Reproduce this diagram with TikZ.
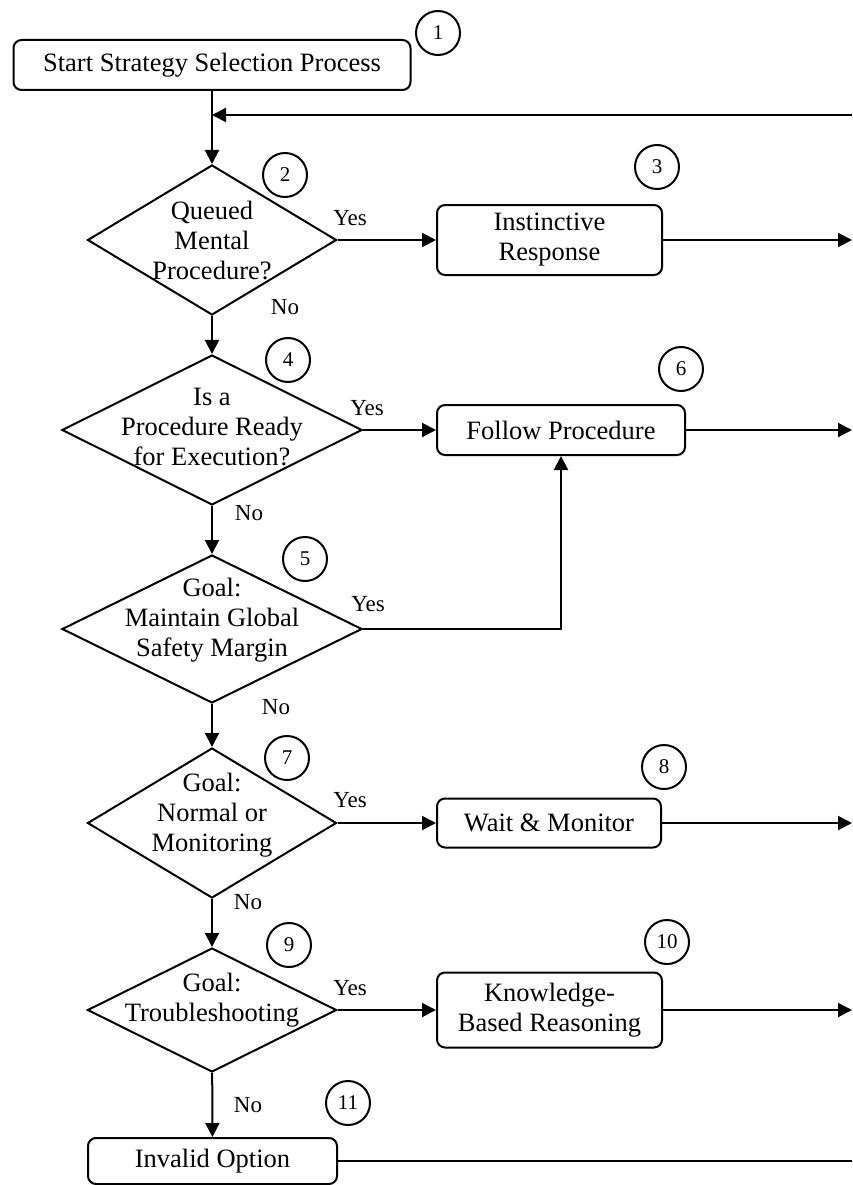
\documentclass[tikz,border=0pt]{standalone}
\usepackage{fontspec}
\setmainfont{Liberation Serif}
\usetikzlibrary{shapes.geometric, arrows.meta}

\begin{document}
\begin{tikzpicture}[x=1pt, y=-1pt, line width=2pt,
        box/.style={draw, rounded corners=8pt, align=center, inner sep=0pt,
            font=\fontsize{26.5}{30}\selectfont},
        decision/.style={draw, diamond, inner sep=0pt},
        qtext/.style={align=center, font=\fontsize{26.5}{30}\selectfont},
        answer/.style={font=\fontsize{23}{26}\selectfont},
        stepnum/.style={draw, circle, minimum size=44pt, inner sep=0pt,
            font=\fontsize{21}{23}\selectfont},
        flow/.style={-{Triangle[length=14pt, width=14pt]}}]
        \useasboundingbox (0,0) rectangle (852,1185);

        % Start box
        \node[box, minimum width=397pt, minimum height=50pt] (start) at (212,65) {Start Strategy Selection Process};
        \node[stepnum] (n1) at (438,33) {1};

        % Decisions down the left column
        \node[decision, minimum width=249pt, minimum height=150pt] (queued) at (212,240) {};
        \node[qtext] (queuedtxt) at (212,240) {Queued\\Mental\\Procedure?};
        \node[decision, minimum width=300pt, minimum height=150pt] (ready) at (212,430) {};
        \node[qtext] (readytxt) at (212,427) {Is a\\Procedure Ready\\for Execution?};
        \node[decision, minimum width=300pt, minimum height=148pt] (safety) at (212,629) {};
        \node[qtext] (safetytxt) at (212,620) {Goal:\\Maintain Global\\Safety Margin};
        \node[decision, minimum width=249pt, minimum height=150pt] (normal) at (212,823) {};
        \node[qtext] (normaltxt) at (212,815) {Goal:\\Normal or\\Monitoring};
        \node[decision, minimum width=249pt, minimum height=124pt] (trouble) at (212,1010) {};
        \node[qtext] (troubletxt) at (212,1000) {Goal:\\Troubleshooting};
        \node[box, minimum width=249pt, minimum height=46pt] (invalid) at (212.5,1161) {Invalid Option};

        % Actions on the right
        \node[box, minimum width=225pt, minimum height=70pt] (instinct) at (549.5,240) {Instinctive\\Response};
        \node[box, minimum width=248pt, minimum height=50pt] (follow) at (561,430) {Follow Procedure};
        \node[box, minimum width=224pt, minimum height=49pt] (wait) at (549,823) {Wait \& Monitor};
        \node[box, minimum width=225pt, minimum height=75pt] (knowledge) at (549.5,1010) {Knowledge-\\Based Reasoning};

        % Step numbers
        \node[stepnum] (n2) at (285,175) {2};
        \node[stepnum] (n3) at (657,167) {3};
        \node[stepnum] (n4) at (288,360) {4};
        \node[stepnum] (n5) at (305,559) {5};
        \node[stepnum] (n6) at (681,369) {6};
        \node[stepnum] (n7) at (287,758) {7};
        \node[stepnum] (n8) at (664,767) {8};
        \node[stepnum] (n9) at (289,945) {9};
        \node[stepnum] (n10) at (667,942) {10};
        \node[stepnum] (n11) at (348,1103) {11};

        % Yes / No labels
        \node[answer] (yes2) at (350,218) {Yes};
        \node[answer] (no2) at (285,307) {No};
        \node[answer] (yes4) at (367,408) {Yes};
        \node[answer] (no4) at (249,513) {No};
        \node[answer] (yes5) at (368,604) {Yes};
        \node[answer] (no5) at (276,707) {No};
        \node[answer] (yes7) at (350,800) {Yes};
        \node[answer] (no7) at (248,902) {No};
        \node[answer] (yes9) at (350,988) {Yes};
        \node[answer] (no9) at (248,1105) {No};

        % Loose ends at the right margin
        \coordinate (loopin) at (852,115);
        \coordinate (join) at (212,115);
        \coordinate (out3) at (852,240);
        \coordinate (out6) at (852,430);
        \coordinate (out8) at (852,823);
        \coordinate (out10) at (852,1010);
        \coordinate (out11) at (852,1161);

        % Main column
        \draw[flow] (start) -- (queued);
        \draw[flow] (loopin) -- (join);
        \draw[flow] (queued) -- (ready);
        \draw[flow] (ready) -- (safety);
        \draw[flow] (safety) -- (normal);
        \draw[flow] (normal) -- (trouble);
        \draw[flow] (trouble) -- (invalid);

        % Yes branches
        \draw[flow] (queued.east) -- (instinct);
        \draw[flow] (ready.east) -- (follow);
        \draw[flow] (safety.east) -| (follow.south);
        \draw[flow] (normal.east) -- (wait);
        \draw[flow] (trouble.east) -- (knowledge);

        % Out to the right
        \draw[flow] (instinct) -- (out3);
        \draw[flow] (follow) -- (out6);
        \draw[flow] (wait) -- (out8);
        \draw[flow] (knowledge) -- (out10);
        \draw (invalid) -- (out11);
    \end{tikzpicture}
\end{document}
